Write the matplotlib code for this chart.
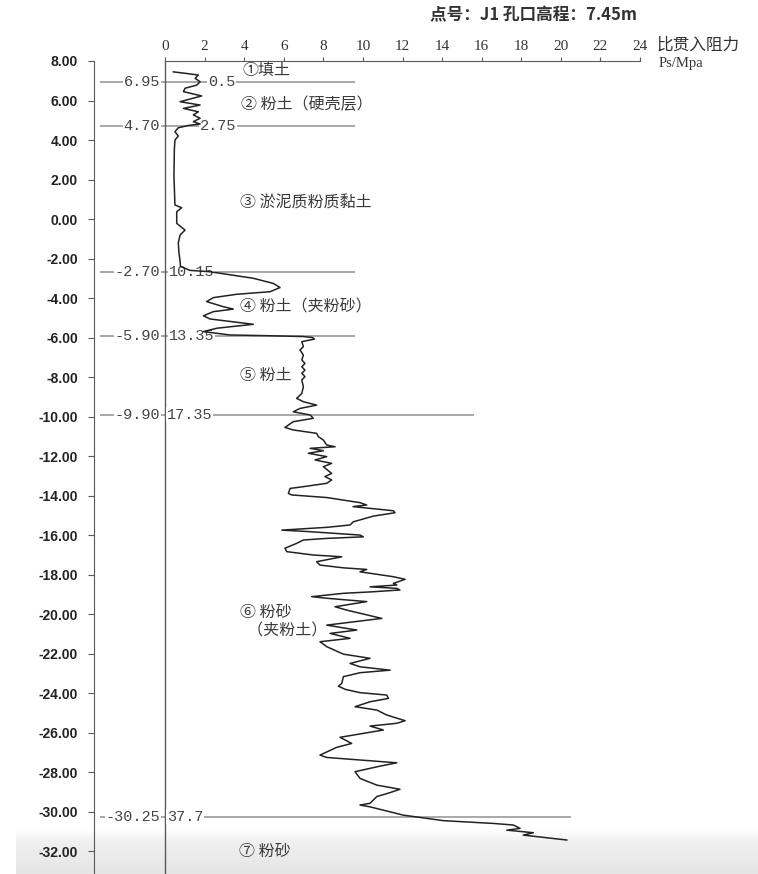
import numpy as np
import matplotlib
matplotlib.use("Agg")
import matplotlib.pyplot as plt

CJK = ["Noto Sans CJK SC", "DejaVu Sans"]
plt.rcParams["font.family"] = CJK

# Borehole J1, collar elevation 7.45 m
collar_elev = 7.45

# Specific penetration resistance Ps (MPa) versus elevation (m)
ps = [0.42, 1.00, 1.68, 1.52, 1.77, 1.60, 1.01, 0.93, 1.85, 0.76, 1.77, 0.93, 1.68, 1.43,
      1.77, 1.43, 1.77, 1.20, 0.67, 0.50, 0.67, 0.50, 0.47, 0.45, 0.48, 0.50, 0.84, 0.59,
      0.59, 1.01, 0.76, 0.67, 0.70, 0.76, 0.78, 1.26, 2.27, 4.46, 5.47, 5.81, 5.31, 3.62,
      2.44, 2.10, 2.95, 3.45, 2.44, 1.94, 2.27, 4.46, 3.62, 2.61, 1.94, 3.28, 5.31, 6.99,
      7.45, 7.55, 6.91, 6.99, 6.82, 6.99, 6.91, 7.07, 6.91, 7.07, 6.91, 7.07, 6.91, 6.99,
      6.91, 6.65, 6.99, 7.66, 6.82, 6.48, 7.33, 7.49, 6.48, 6.06, 6.48, 7.66, 7.75, 8.00,
      8.17, 8.59, 7.33, 8.00, 7.24, 8.17, 7.58, 8.42, 8.00, 8.42, 8.08, 8.42, 8.17, 6.99,
      6.32, 6.23, 6.40, 8.17, 9.85, 10.19, 9.50, 10.36, 11.54, 11.62, 10.53, 9.51, 9.35,
      8.17, 5.90, 7.33, 9.85, 10.02, 8.17, 6.99, 6.65, 6.06, 6.15, 7.49, 8.93, 7.66, 7.83,
      9.01, 10.19, 9.85, 11.54, 12.13, 11.54, 11.71, 10.36, 11.71, 11.87, 10.53, 9.01,
      7.41, 8.17, 10.19, 8.59, 9.18, 10.95, 8.17, 9.69, 8.34, 9.35, 7.83, 8.17, 9.01,
      10.36, 9.35, 9.85, 11.37, 9.85, 9.01, 8.93, 8.76, 9.10, 9.85, 11.20, 11.29, 10.36,
      9.60, 10.70, 11.20, 12.13, 11.71, 10.36, 11.03, 10.19, 8.84, 9.43, 8.67, 7.83, 8.17,
      9.85, 11.71, 10.86, 9.60, 9.85, 10.70, 11.87, 11.37, 10.70, 10.36, 9.85, 10.36,
      12.04, 14.07, 16.59, 17.60, 17.94, 17.27, 18.61, 18.10, 20.30]
elev = [7.45, 7.38, 7.29, 7.12, 6.95, 6.78, 6.62, 6.45, 6.23, 5.94, 5.77, 5.60, 5.43, 5.27,
        5.10, 4.93, 4.81, 4.74, 4.62, 4.42, 4.20, 4.00, 3.50, 2.20, 1.20, 0.71, 0.57, 0.37,
        -0.22, -0.56, -0.81, -1.20, -1.66, -2.16, -2.40, -2.60, -2.67, -3.00, -3.26, -3.47,
        -3.68, -3.81, -3.98, -4.18, -4.44, -4.56, -4.69, -4.90, -5.06, -5.33, -5.42, -5.53,
        -5.70, -5.87, -5.91, -5.95, -6.00, -6.08, -6.21, -6.46, -6.63, -6.89, -7.14, -7.31,
        -7.48, -7.65, -7.81, -7.98, -8.15, -8.49, -8.83, -9.08, -9.25, -9.42, -9.59, -9.76,
        -9.92, -10.09, -10.26, -10.55, -10.68, -10.85, -11.02, -11.19, -11.44, -11.53,
        -11.61, -11.73, -11.86, -12.03, -12.20, -12.37, -12.54, -12.88, -13.04, -13.21,
        -13.38, -13.55, -13.64, -13.89, -13.97, -14.10, -14.36, -14.48, -14.56, -14.65,
        -14.77, -14.87, -15.04, -15.33, -15.49, -15.61, -15.75, -15.83, -16.00, -16.09,
        -16.17, -16.25, -16.42, -16.67, -16.84, -17.01, -17.10, -17.35, -17.52, -17.66,
        -17.74, -17.86, -18.11, -18.24, -18.45, -18.53, -18.62, -18.70, -18.78, -18.87,
        -18.95, -19.12, -19.20, -19.37, -19.63, -19.80, -20.22, -20.56, -20.81, -20.98,
        -21.23, -21.40, -21.65, -22.03, -22.24, -22.50, -22.67, -22.84, -22.97, -23.17,
        -23.51, -23.65, -23.81, -23.98, -24.10, -24.27, -24.44, -24.69, -24.86, -25.11,
        -25.40, -25.53, -25.67, -25.87, -26.01, -26.24, -26.55, -26.75, -27.14, -27.26,
        -27.39, -27.53, -27.70, -27.98, -28.32, -28.66, -28.87, -29.04, -29.24, -29.58,
        -29.67, -29.76, -30.18, -30.46, -30.60, -30.68, -30.85, -30.94, -31.07, -31.19,
        -31.44]

# Layer bottoms: elevation (m) and depth below collar (m)
layer_elev = [6.95, 4.70, -2.70, -5.90, -9.90, -30.25]
layer_depth = [0.5, 2.75, 10.15, 13.35, 17.35, 37.7]
layer_names = ["①填土", "② 粉土（硬壳层）", "③ 淤泥质粉质黏土", "④ 粉土（夹粉砂）",
               "⑤ 粉土", "⑥ 粉砂\n  （夹粉土）", "⑦ 粉砂"]

ps_ticks = list(range(0, 25, 2))
elev_ticks = list(range(-32, 9, 2))

W, H = 758, 874
fig = plt.figure(figsize=(W / 100, H / 100), dpi=100)

# soft grey band along the bottom edge
band = fig.add_axes([16 / W, 0, 1 - 16 / W, 46 / H], zorder=0)
n = 64
t = np.linspace(0, 1, n)
rgba = np.ones((n, 1, 4))
rgba[:, 0, :3] = (0.90 + 0.06 * t)[:, None]
rgba[:, 0, 3] = np.clip((1 - t) / 0.3, 0, 1)
band.imshow(rgba, aspect="auto", origin="lower", extent=[0, 1, 0, 1],
            interpolation="bilinear")
band.axis("off")

ax = fig.add_axes([94 / W, 0, 546 / W, 813 / H], zorder=1)
ax.set_facecolor("none")
ax.set_xlim(-3.59, 24)
ax.set_ylim(-33.16, 8)

axis_col = "#5a5a5a"
for s in ("right", "bottom"):
    ax.spines[s].set_visible(False)
ax.spines["left"].set_color(axis_col)
ax.spines["top"].set_color(axis_col)
ax.spines["top"].set_bounds(0, 24)

ax.xaxis.tick_top()
ax.set_xticks(ps_ticks)
ax.set_xticklabels([str(t) for t in ps_ticks], family="Liberation Serif",
                   fontsize=11, color="#333333")
ax.tick_params(axis="x", direction="out", length=3, pad=3, color=axis_col)

ax.set_yticks(elev_ticks)
ax.set_yticklabels([f"{v:.2f}" for v in elev_ticks], family="Liberation Sans",
                   fontweight="bold", fontsize=10, color="#222222")
ax.tick_params(axis="y", direction="out", length=4.5, pad=7, color=axis_col)

ax.axvline(0, color=axis_col, lw=1, zorder=2)

# layer boundary lines with elevation / depth labels
line_end = [9.6, 9.6, 9.6, 9.6, 15.6, 20.5]
depth_x = [2.17, 1.77, 0.2, 0.2, 0.1, 0.1]
box = dict(facecolor="white", edgecolor="none", pad=0.6)
for e, d, xe, xd in zip(layer_elev, layer_depth, line_end, depth_x):
    ax.hlines(e, -3.3, xe, color="#9a9a9a", lw=1.2, zorder=1)
    ax.text(-0.25, e, f"{e:.2f}", ha="right", va="center", family="Liberation Mono",
            fontsize=11, color="#444444", bbox=box, zorder=3)
    ax.text(xd, e, f"{d:g}", ha="left", va="center", family="Liberation Mono",
            fontsize=11, color="#444444", bbox=box, zorder=3)

# layer names
name_pos = [(3.9, 7.54), (3.85, 5.77), (3.8, 0.81), (3.8, -4.44), (3.8, -7.9),
            (3.8, -20.4), (3.75, -32.0)]
for (x, y), name in zip(name_pos, layer_names):
    ax.text(x, y, name, ha="left", va="center", fontsize=11.5, color="#3a3a3a",
            linespacing=1.15, zorder=3)

ax.plot(ps, elev, color="#222222", lw=1.1, zorder=5)

fig.text(430 / W, 1 - 15 / H, "点号：J1 孔口高程：7.45m", ha="left", va="center",
         fontsize=12, fontweight="bold", color="#333333")
fig.text(657 / W, 1 - 45 / H, "比贯入阻力", ha="left", va="center", fontsize=12,
         color="#333333")
fig.text(659 / W, 1 - 63 / H, "Ps/Mpa", ha="left", va="center",
         family="Liberation Serif", fontsize=10.5, color="#333333")

fig.savefig("out.png", dpi=100)
